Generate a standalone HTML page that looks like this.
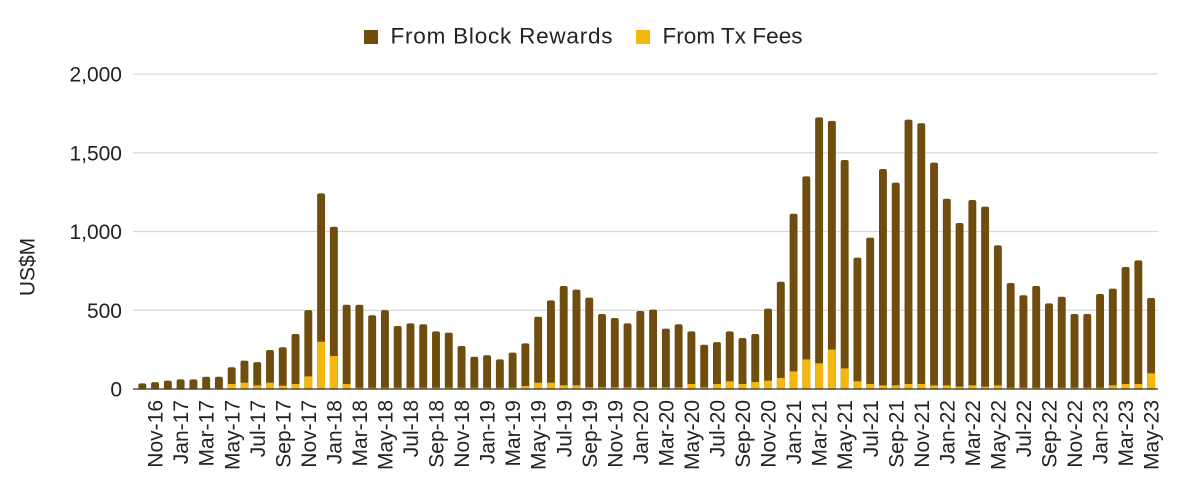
<!DOCTYPE html>
<html><head><meta charset="utf-8"><style>
html,body{margin:0;padding:0;background:#fff;}
svg{display:block;font-family:"Liberation Sans",Arial,sans-serif;}
</style></head><body>
<svg width="1184" height="490" viewBox="0 0 1184 490" xmlns="http://www.w3.org/2000/svg">
<rect width="1184" height="490" fill="#fff"/>
<g stroke="#d9d9d9" stroke-width="1.3">
<line x1="133" x2="1158" y1="74" y2="74"/>
<line x1="133" x2="1158" y1="152.75" y2="152.75"/>
<line x1="133" x2="1158" y1="231.5" y2="231.5"/>
<line x1="133" x2="1158" y1="310.25" y2="310.25"/>
</g>
<g transform="translate(142.3,389) scale(12.77,-0.1575)">
<g fill="#6e4d0e">
<rect x="-0.31" y="-15" width="0.62" height="51" rx="0.16" ry="12.7"/>
<rect x="0.69" y="-15" width="0.62" height="59" rx="0.16" ry="12.7"/>
<rect x="1.69" y="-15" width="0.62" height="68" rx="0.16" ry="12.7"/>
<rect x="2.69" y="-15" width="0.62" height="76" rx="0.16" ry="12.7"/>
<rect x="3.69" y="-15" width="0.62" height="76" rx="0.16" ry="12.7"/>
<rect x="4.69" y="-15" width="0.62" height="93" rx="0.16" ry="12.7"/>
<rect x="5.69" y="-15" width="0.62" height="93" rx="0.16" ry="12.7"/>
<rect x="6.69" y="-15" width="0.62" height="153" rx="0.16" ry="12.7"/>
<rect x="7.69" y="-15" width="0.62" height="195" rx="0.16" ry="12.7"/>
<rect x="8.69" y="-15" width="0.62" height="186" rx="0.16" ry="12.7"/>
<rect x="9.69" y="-15" width="0.62" height="263" rx="0.16" ry="12.7"/>
<rect x="10.69" y="-15" width="0.62" height="280" rx="0.16" ry="12.7"/>
<rect x="11.69" y="-15" width="0.62" height="364" rx="0.16" ry="12.7"/>
<rect x="12.69" y="-15" width="0.62" height="516" rx="0.16" ry="12.7"/>
<rect x="13.69" y="-15" width="0.62" height="1257" rx="0.16" ry="12.7"/>
<rect x="14.69" y="-15" width="0.62" height="1045" rx="0.16" ry="12.7"/>
<rect x="15.69" y="-15" width="0.62" height="550" rx="0.16" ry="12.7"/>
<rect x="16.69" y="-15" width="0.62" height="550" rx="0.16" ry="12.7"/>
<rect x="17.69" y="-15" width="0.62" height="483" rx="0.16" ry="12.7"/>
<rect x="18.69" y="-15" width="0.62" height="516" rx="0.16" ry="12.7"/>
<rect x="19.69" y="-15" width="0.62" height="415" rx="0.16" ry="12.7"/>
<rect x="20.69" y="-15" width="0.62" height="432" rx="0.16" ry="12.7"/>
<rect x="21.69" y="-15" width="0.62" height="426" rx="0.16" ry="12.7"/>
<rect x="22.69" y="-15" width="0.62" height="381" rx="0.16" ry="12.7"/>
<rect x="23.69" y="-15" width="0.62" height="373" rx="0.16" ry="12.7"/>
<rect x="24.69" y="-15" width="0.62" height="288" rx="0.16" ry="12.7"/>
<rect x="25.69" y="-15" width="0.62" height="220" rx="0.16" ry="12.7"/>
<rect x="26.69" y="-15" width="0.62" height="229" rx="0.16" ry="12.7"/>
<rect x="27.69" y="-15" width="0.62" height="203" rx="0.16" ry="12.7"/>
<rect x="28.69" y="-15" width="0.62" height="246" rx="0.16" ry="12.7"/>
<rect x="29.69" y="-15" width="0.62" height="305" rx="0.16" ry="12.7"/>
<rect x="30.69" y="-15" width="0.62" height="474" rx="0.16" ry="12.7"/>
<rect x="31.69" y="-15" width="0.62" height="578" rx="0.16" ry="12.7"/>
<rect x="32.69" y="-15" width="0.62" height="669" rx="0.16" ry="12.7"/>
<rect x="33.69" y="-15" width="0.62" height="646" rx="0.16" ry="12.7"/>
<rect x="34.69" y="-15" width="0.62" height="595" rx="0.16" ry="12.7"/>
<rect x="35.69" y="-15" width="0.62" height="491" rx="0.16" ry="12.7"/>
<rect x="36.69" y="-15" width="0.62" height="466" rx="0.16" ry="12.7"/>
<rect x="37.69" y="-15" width="0.62" height="432" rx="0.16" ry="12.7"/>
<rect x="38.69" y="-15" width="0.62" height="510" rx="0.16" ry="12.7"/>
<rect x="39.69" y="-15" width="0.62" height="519" rx="0.16" ry="12.7"/>
<rect x="40.69" y="-15" width="0.62" height="398" rx="0.16" ry="12.7"/>
<rect x="41.69" y="-15" width="0.62" height="426" rx="0.16" ry="12.7"/>
<rect x="42.69" y="-15" width="0.62" height="381" rx="0.16" ry="12.7"/>
<rect x="43.69" y="-15" width="0.62" height="296" rx="0.16" ry="12.7"/>
<rect x="44.69" y="-15" width="0.62" height="313" rx="0.16" ry="12.7"/>
<rect x="45.69" y="-15" width="0.62" height="381" rx="0.16" ry="12.7"/>
<rect x="46.69" y="-15" width="0.62" height="339" rx="0.16" ry="12.7"/>
<rect x="47.69" y="-15" width="0.62" height="364" rx="0.16" ry="12.7"/>
<rect x="48.69" y="-15" width="0.62" height="525" rx="0.16" ry="12.7"/>
<rect x="49.69" y="-15" width="0.62" height="696" rx="0.16" ry="12.7"/>
<rect x="50.69" y="-15" width="0.62" height="1128" rx="0.16" ry="12.7"/>
<rect x="51.69" y="-15" width="0.62" height="1365" rx="0.16" ry="12.7"/>
<rect x="52.69" y="-15" width="0.62" height="1740" rx="0.16" ry="12.7"/>
<rect x="53.69" y="-15" width="0.62" height="1717" rx="0.16" ry="12.7"/>
<rect x="54.69" y="-15" width="0.62" height="1469" rx="0.16" ry="12.7"/>
<rect x="55.69" y="-15" width="0.62" height="849" rx="0.16" ry="12.7"/>
<rect x="56.69" y="-15" width="0.62" height="976" rx="0.16" ry="12.7"/>
<rect x="57.69" y="-15" width="0.62" height="1412" rx="0.16" ry="12.7"/>
<rect x="58.69" y="-15" width="0.62" height="1325" rx="0.16" ry="12.7"/>
<rect x="59.69" y="-15" width="0.62" height="1725" rx="0.16" ry="12.7"/>
<rect x="60.69" y="-15" width="0.62" height="1702" rx="0.16" ry="12.7"/>
<rect x="61.69" y="-15" width="0.62" height="1452" rx="0.16" ry="12.7"/>
<rect x="62.69" y="-15" width="0.62" height="1223" rx="0.16" ry="12.7"/>
<rect x="63.69" y="-15" width="0.62" height="1069" rx="0.16" ry="12.7"/>
<rect x="64.69" y="-15" width="0.62" height="1215" rx="0.16" ry="12.7"/>
<rect x="65.69" y="-15" width="0.62" height="1173" rx="0.16" ry="12.7"/>
<rect x="66.69" y="-15" width="0.62" height="927" rx="0.16" ry="12.7"/>
<rect x="67.69" y="-15" width="0.62" height="688" rx="0.16" ry="12.7"/>
<rect x="68.69" y="-15" width="0.62" height="610" rx="0.16" ry="12.7"/>
<rect x="69.69" y="-15" width="0.62" height="669" rx="0.16" ry="12.7"/>
<rect x="70.69" y="-15" width="0.62" height="559" rx="0.16" ry="12.7"/>
<rect x="71.69" y="-15" width="0.62" height="601" rx="0.16" ry="12.7"/>
<rect x="72.69" y="-15" width="0.62" height="491" rx="0.16" ry="12.7"/>
<rect x="73.69" y="-15" width="0.62" height="491" rx="0.16" ry="12.7"/>
<rect x="74.69" y="-15" width="0.62" height="618" rx="0.16" ry="12.7"/>
<rect x="75.69" y="-15" width="0.62" height="652" rx="0.16" ry="12.7"/>
<rect x="76.69" y="-15" width="0.62" height="790" rx="0.16" ry="12.7"/>
<rect x="77.69" y="-15" width="0.62" height="832" rx="0.16" ry="12.7"/>
<rect x="78.69" y="-15" width="0.62" height="593" rx="0.16" ry="12.7"/>
</g>
<g fill="#f3b70f">
<rect x="-0.31" y="0" width="0.62" height="4"/>
<rect x="0.69" y="0" width="0.62" height="4"/>
<rect x="1.69" y="0" width="0.62" height="4"/>
<rect x="2.69" y="0" width="0.62" height="4"/>
<rect x="3.69" y="0" width="0.62" height="4"/>
<rect x="4.69" y="0" width="0.62" height="4"/>
<rect x="5.69" y="0" width="0.62" height="4"/>
<rect x="6.69" y="0" width="0.62" height="32"/>
<rect x="7.69" y="0" width="0.62" height="40"/>
<rect x="8.69" y="0" width="0.62" height="23"/>
<rect x="9.69" y="0" width="0.62" height="40"/>
<rect x="10.69" y="0" width="0.62" height="21"/>
<rect x="11.69" y="0" width="0.62" height="32"/>
<rect x="12.69" y="0" width="0.62" height="80"/>
<rect x="13.69" y="0" width="0.62" height="300"/>
<rect x="14.69" y="0" width="0.62" height="210"/>
<rect x="15.69" y="0" width="0.62" height="32"/>
<rect x="16.69" y="0" width="0.62" height="8"/>
<rect x="17.69" y="0" width="0.62" height="8"/>
<rect x="18.69" y="0" width="0.62" height="8"/>
<rect x="19.69" y="0" width="0.62" height="8"/>
<rect x="20.69" y="0" width="0.62" height="8"/>
<rect x="21.69" y="0" width="0.62" height="8"/>
<rect x="22.69" y="0" width="0.62" height="8"/>
<rect x="23.69" y="0" width="0.62" height="8"/>
<rect x="24.69" y="0" width="0.62" height="8"/>
<rect x="25.69" y="0" width="0.62" height="8"/>
<rect x="26.69" y="0" width="0.62" height="8"/>
<rect x="27.69" y="0" width="0.62" height="8"/>
<rect x="28.69" y="0" width="0.62" height="8"/>
<rect x="29.69" y="0" width="0.62" height="19"/>
<rect x="30.69" y="0" width="0.62" height="40"/>
<rect x="31.69" y="0" width="0.62" height="40"/>
<rect x="32.69" y="0" width="0.62" height="23"/>
<rect x="33.69" y="0" width="0.62" height="23"/>
<rect x="34.69" y="0" width="0.62" height="10"/>
<rect x="35.69" y="0" width="0.62" height="10"/>
<rect x="36.69" y="0" width="0.62" height="10"/>
<rect x="37.69" y="0" width="0.62" height="10"/>
<rect x="38.69" y="0" width="0.62" height="10"/>
<rect x="39.69" y="0" width="0.62" height="10"/>
<rect x="40.69" y="0" width="0.62" height="10"/>
<rect x="41.69" y="0" width="0.62" height="10"/>
<rect x="42.69" y="0" width="0.62" height="32"/>
<rect x="43.69" y="0" width="0.62" height="10"/>
<rect x="44.69" y="0" width="0.62" height="32"/>
<rect x="45.69" y="0" width="0.62" height="49"/>
<rect x="46.69" y="0" width="0.62" height="32"/>
<rect x="47.69" y="0" width="0.62" height="44"/>
<rect x="48.69" y="0" width="0.62" height="53"/>
<rect x="49.69" y="0" width="0.62" height="70"/>
<rect x="50.69" y="0" width="0.62" height="112"/>
<rect x="51.69" y="0" width="0.62" height="188"/>
<rect x="52.69" y="0" width="0.62" height="163"/>
<rect x="53.69" y="0" width="0.62" height="250"/>
<rect x="54.69" y="0" width="0.62" height="131"/>
<rect x="55.69" y="0" width="0.62" height="49"/>
<rect x="56.69" y="0" width="0.62" height="32"/>
<rect x="57.69" y="0" width="0.62" height="23"/>
<rect x="58.69" y="0" width="0.62" height="23"/>
<rect x="59.69" y="0" width="0.62" height="32"/>
<rect x="60.69" y="0" width="0.62" height="32"/>
<rect x="61.69" y="0" width="0.62" height="23"/>
<rect x="62.69" y="0" width="0.62" height="23"/>
<rect x="63.69" y="0" width="0.62" height="15"/>
<rect x="64.69" y="0" width="0.62" height="23"/>
<rect x="65.69" y="0" width="0.62" height="15"/>
<rect x="66.69" y="0" width="0.62" height="23"/>
<rect x="67.69" y="0" width="0.62" height="8"/>
<rect x="68.69" y="0" width="0.62" height="8"/>
<rect x="69.69" y="0" width="0.62" height="8"/>
<rect x="70.69" y="0" width="0.62" height="8"/>
<rect x="71.69" y="0" width="0.62" height="8"/>
<rect x="72.69" y="0" width="0.62" height="8"/>
<rect x="73.69" y="0" width="0.62" height="8"/>
<rect x="74.69" y="0" width="0.62" height="8"/>
<rect x="75.69" y="0" width="0.62" height="23"/>
<rect x="76.69" y="0" width="0.62" height="32"/>
<rect x="77.69" y="0" width="0.62" height="32"/>
<rect x="78.69" y="0" width="0.62" height="100"/>
</g>
</g>
<rect x="128" y="389.6" width="1040" height="8" fill="#fff"/>
<line x1="133" x2="1158" y1="389" y2="389" stroke="#333" stroke-width="1.3"/>
<g font-size="21" fill="#222" text-anchor="end">
<text x="122" y="81.5">2,000</text>
<text x="122" y="160.25">1,500</text>
<text x="122" y="239">1,000</text>
<text x="122" y="317.75">500</text>
<text x="122" y="396.5">0</text>
</g>
<text transform="translate(27,267) rotate(-90)" font-size="21" fill="#222" text-anchor="middle" dy="0.36em">US$M</text>
<g font-size="21" fill="#222" text-anchor="end">
<text transform="translate(155.07,400) rotate(-90)" dy="0.36em">Nov-16</text>
<text transform="translate(180.61,400) rotate(-90)" dy="0.36em">Jan-17</text>
<text transform="translate(206.15,400) rotate(-90)" dy="0.36em">Mar-17</text>
<text transform="translate(231.69,400) rotate(-90)" dy="0.36em">May-17</text>
<text transform="translate(257.23,400) rotate(-90)" dy="0.36em">Jul-17</text>
<text transform="translate(282.77,400) rotate(-90)" dy="0.36em">Sep-17</text>
<text transform="translate(308.31,400) rotate(-90)" dy="0.36em">Nov-17</text>
<text transform="translate(333.85,400) rotate(-90)" dy="0.36em">Jan-18</text>
<text transform="translate(359.39,400) rotate(-90)" dy="0.36em">Mar-18</text>
<text transform="translate(384.93,400) rotate(-90)" dy="0.36em">May-18</text>
<text transform="translate(410.47,400) rotate(-90)" dy="0.36em">Jul-18</text>
<text transform="translate(436.01,400) rotate(-90)" dy="0.36em">Sep-18</text>
<text transform="translate(461.55,400) rotate(-90)" dy="0.36em">Nov-18</text>
<text transform="translate(487.09,400) rotate(-90)" dy="0.36em">Jan-19</text>
<text transform="translate(512.63,400) rotate(-90)" dy="0.36em">Mar-19</text>
<text transform="translate(538.17,400) rotate(-90)" dy="0.36em">May-19</text>
<text transform="translate(563.71,400) rotate(-90)" dy="0.36em">Jul-19</text>
<text transform="translate(589.25,400) rotate(-90)" dy="0.36em">Sep-19</text>
<text transform="translate(614.79,400) rotate(-90)" dy="0.36em">Nov-19</text>
<text transform="translate(640.33,400) rotate(-90)" dy="0.36em">Jan-20</text>
<text transform="translate(665.87,400) rotate(-90)" dy="0.36em">Mar-20</text>
<text transform="translate(691.41,400) rotate(-90)" dy="0.36em">May-20</text>
<text transform="translate(716.95,400) rotate(-90)" dy="0.36em">Jul-20</text>
<text transform="translate(742.49,400) rotate(-90)" dy="0.36em">Sep-20</text>
<text transform="translate(768.03,400) rotate(-90)" dy="0.36em">Nov-20</text>
<text transform="translate(793.57,400) rotate(-90)" dy="0.36em">Jan-21</text>
<text transform="translate(819.11,400) rotate(-90)" dy="0.36em">Mar-21</text>
<text transform="translate(844.65,400) rotate(-90)" dy="0.36em">May-21</text>
<text transform="translate(870.19,400) rotate(-90)" dy="0.36em">Jul-21</text>
<text transform="translate(895.73,400) rotate(-90)" dy="0.36em">Sep-21</text>
<text transform="translate(921.27,400) rotate(-90)" dy="0.36em">Nov-21</text>
<text transform="translate(946.81,400) rotate(-90)" dy="0.36em">Jan-22</text>
<text transform="translate(972.35,400) rotate(-90)" dy="0.36em">Mar-22</text>
<text transform="translate(997.89,400) rotate(-90)" dy="0.36em">May-22</text>
<text transform="translate(1023.43,400) rotate(-90)" dy="0.36em">Jul-22</text>
<text transform="translate(1048.97,400) rotate(-90)" dy="0.36em">Sep-22</text>
<text transform="translate(1074.51,400) rotate(-90)" dy="0.36em">Nov-22</text>
<text transform="translate(1100.05,400) rotate(-90)" dy="0.36em">Jan-23</text>
<text transform="translate(1125.59,400) rotate(-90)" dy="0.36em">Mar-23</text>
<text transform="translate(1151.13,400) rotate(-90)" dy="0.36em">May-23</text>
</g>
<rect x="364" y="30" width="14" height="14" fill="#6e4d0e"/>
<text x="390.5" y="43.5" font-size="22.5" fill="#222" textLength="222" lengthAdjust="spacing">From Block Rewards</text>
<rect x="636" y="30" width="14" height="14" fill="#f3b70f"/>
<text x="662.5" y="43.5" font-size="22.5" fill="#222" textLength="140" lengthAdjust="spacing">From Tx Fees</text>
</svg>
</body></html>
